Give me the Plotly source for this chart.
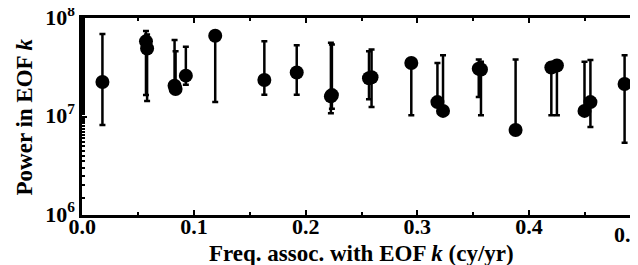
import plotly.graph_objects as go

freq = [0.018, 0.057, 0.058, 0.0826, 0.0835, 0.0927, 0.119, 0.163, 0.192, 0.2226, 0.2235,
        0.2567, 0.259, 0.2946, 0.318, 0.323, 0.355, 0.357, 0.388, 0.420, 0.425, 0.4497, 0.455, 0.4856]
power = [2.24e7, 5.8e7, 4.9e7, 2.05e7, 1.9e7, 2.6e7, 6.6e7, 2.35e7, 2.8e7, 1.6e7, 1.65e7,
         2.45e7, 2.5e7, 3.5e7, 1.4e7, 1.14e7, 3.05e7, 3.0e7, 7.3e6, 3.15e7, 3.3e7, 1.14e7, 1.4e7, 2.14e7]
upper = [6.9e7, 7.4e7, 6.8e7, 6.0e7, 4.6e7, 5.1e7, 6.6e7, 5.8e7, 5.3e7, 5.6e7, 5.4e7,
         4.6e7, 4.8e7, 3.5e7, 3.5e7, 4.2e7, 3.8e7, 3.6e7, 3.8e7, 3.2e7, 3.3e7, 3.6e7, 3.75e7, 4.2e7]
lower = [8.2e6, 1.65e7, 1.44e7, 2.0e7, 1.9e7, 2.1e7, 1.4e7, 1.66e7, 1.66e7, 1.08e7, 1.2e7,
         1.5e7, 1.25e7, 1.03e7, 1.4e7, 1.14e7, 1.58e7, 1.03e7, 7.3e6, 1.03e7, 1.03e7, 1.14e7, 7.8e6, 5.4e6]
x_ticks = [0, 0.1, 0.2, 0.3, 0.4, 0.5]
x_ticklabels = ["0.0", "0.1", "0.2", "0.3", "0.4", "0.5"]
y_ticks = [1e6, 1e7, 1e8]
y_ticklabels = ["10<sup>6</sup>", "10<sup>7</sup>", "10<sup>8</sup>"]

err_plus = [u - p for u, p in zip(upper, power)]
err_minus = [p - l for p, l in zip(power, lower)]

font = dict(family="Liberation Serif, Times New Roman, serif", size=22, color="black")
tfont = dict(family="Liberation Serif, Times New Roman, serif", size=23, color="black")

# the last x label is right-aligned at its tick (drawn below) so it stays inside the page
x_ticktext = ["<b>%s</b>" % t for t in x_ticklabels[:-1]] + [""]

fig = go.Figure()
fig.add_trace(go.Scatter(
    x=freq, y=power, mode="markers",
    marker=dict(size=14, color="black", symbol="circle"),
    error_y=dict(type="data", symmetric=False, array=err_plus, arrayminus=err_minus,
                 color="black", thickness=2.5, width=3),
    showlegend=False,
))

fig.update_layout(
    width=638, height=265,
    margin=dict(l=74, r=5, t=10, b=58, autoexpand=False),
    paper_bgcolor="white", plot_bgcolor="white",
    font=font,
)
fig.update_xaxes(
    range=[-0.0003, 0.5003], tickvals=x_ticks,
    ticktext=x_ticktext,
    ticks="inside", ticklen=5, tickwidth=1.5, tickcolor="black",
    minor=dict(dtick=0.05, ticks="inside", ticklen=3, tickcolor="black"),
    showline=True, linecolor="black", linewidth=2.5, mirror="ticks",
    showgrid=False, zeroline=False, ticklabeloverflow="allow",
    ticklabelstandoff=-10,
    tickfont=font,
)
fig.update_yaxes(
    type="log", range=[5.9995, 8.0005],
    tickvals=y_ticks,
    ticktext=["<b>%s</b>" % t for t in y_ticklabels],
    ticks="inside", ticklen=5, tickwidth=1.5, tickcolor="black",
    minor=dict(ticks="inside", ticklen=3, tickcolor="black", showgrid=False),
    showline=True, linecolor="black", linewidth=2.5, mirror="ticks",
    showgrid=False, zeroline=False, ticklabeloverflow="allow",
    ticklabelshift=-1,
    tickfont=font,
)
fig.add_annotation(
    text="<b>%s</b>" % x_ticklabels[-1],
    xref="x", yref="paper", x=x_ticks[-1], y=-0.097, xanchor="right", yanchor="middle",
    xshift=3, showarrow=False, font=font,
)
fig.add_annotation(
    text="<b>Freq. assoc. with EOF <i>k</i> (cy/yr)</b>",
    xref="paper", yref="paper", x=0.5, y=-0.196, xanchor="center", yanchor="middle",
    showarrow=False, font=tfont,
)
fig.add_annotation(
    text="<b>Power in EOF <i>k</i></b>",
    xref="paper", yref="paper", x=-0.102, y=0.5, xanchor="center", yanchor="middle",
    textangle=-90, showarrow=False, font=tfont,
)

fig.write_html("out.html")
